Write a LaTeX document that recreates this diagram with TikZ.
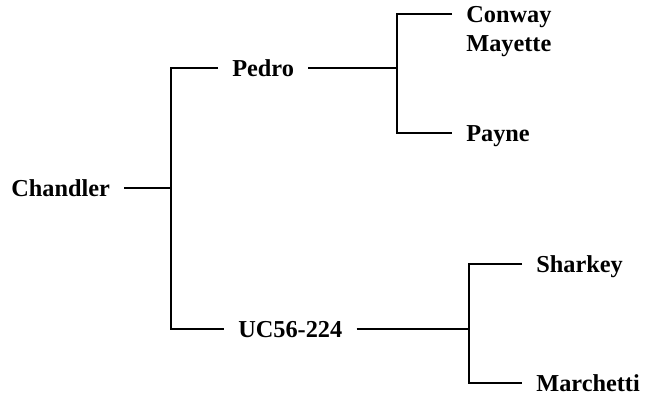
\documentclass[tikz,border=0pt]{standalone}
\usepackage{fontspec}
\setmainfont{Liberation Serif}
\usepackage{tikz}

\begin{document}
\begin{tikzpicture}[black,
	cultivar/.style={anchor=west, inner xsep=0.35cm, inner ysep=0pt, text height=11.7pt, text depth=0pt, font=\fontsize{17.3}{20.8}\selectfont\bfseries},
	branch/.style={line width=1.4pt}]
		
		\useasboundingbox (0,0) rectangle (16.15,9.9);
		
		% Names
		\node[cultivar] (chandler) at (-0.075,5.19) {Chandler};
		\node[cultivar] (pedro) at (5.45,8.19) {Pedro};
		\node[cultivar] (uc) at (5.6,1.68) {UC56-224};
		\node[cultivar] (conway) at (11.3,9.54) {Conway};
		\node[cultivar] (mayette) at (11.3,8.81) {Mayette};
		\node[cultivar] (payne) at (11.3,6.57) {Payne};
		\node[cultivar] (sharkey) at (13.05,3.3) {Sharkey};
		\node[cultivar] (marchetti) at (13.05,0.32) {Marchetti};
		
		% Junctions
		\coordinate (j1) at (4.27,5.19);
		\coordinate (j2) at (9.93,8.19);
		\coordinate (j3) at (11.72,1.68);
		
		% Branches
		\draw[branch] (chandler.east) -- (j1);
		\draw[branch] (pedro.west) -| (j1) |- (uc.west);
		\draw[branch] (pedro.east) -- (j2);
		\draw[branch] (conway.west) -| (j2) |- (payne.west);
		\draw[branch] (uc.east) -- (j3);
		\draw[branch] (sharkey.west) -| (j3) |- (marchetti.west);
		
	\end{tikzpicture}
\end{document}
